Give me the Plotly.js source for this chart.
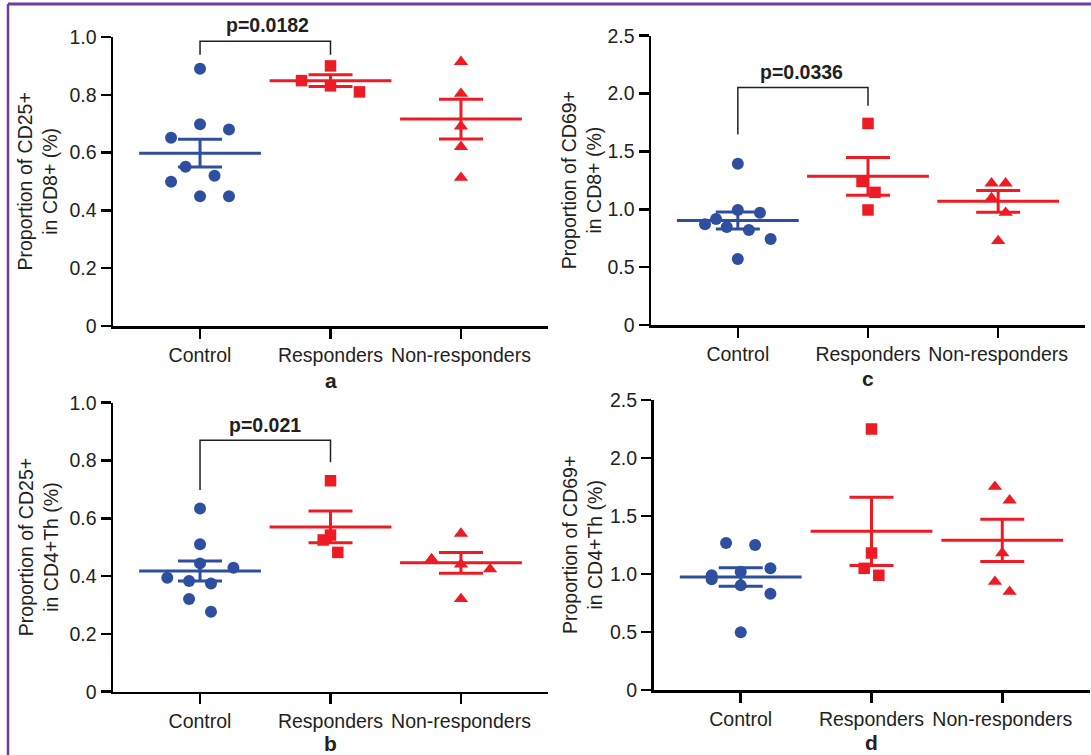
<!DOCTYPE html>
<html>
<head>
<meta charset="utf-8">
<script src="https://cdn.plot.ly/plotly-3.0.1.min.js"></script>
<style>html,body{margin:0;padding:0;background:#fff;}#chart{width:1091px;height:755px;}</style>
</head>
<body>
<div id="chart"></div>
<script>
// ---------- data ----------
const categories = ["Control", "Responders", "Non-responders"];
const yTicksAB = [0, 0.2, 0.4, 0.6, 0.8, 1.0];
const yTickTextAB = ["0", "0.2", "0.4", "0.6", "0.8", "1.0"];
const yTicksCD = [0, 0.5, 1.0, 1.5, 2.0, 2.5];
const yTickTextCD = ["0", "0.5", "1.0", "1.5", "2.0", "2.5"];

// Panel a: CD25+ in CD8+
const aControl = [0.890, 0.698, 0.680, 0.651, 0.551, 0.520, 0.499, 0.449, 0.449];
const aResponders = [0.900, 0.849, 0.831, 0.810];
const aNonResponders = [0.914, 0.804, 0.691, 0.620, 0.513];
const aMean = [0.598, 0.849, 0.716];
const aSEM = [0.048, 0.020, 0.069];

// Panel c: CD69+ in CD8+
const cControl = [1.394, 0.994, 0.971, 0.916, 0.870, 0.847, 0.821, 0.743, 0.570];
const cResponders = [1.742, 1.241, 1.146, 0.994];
const cNonResponders = [1.224, 1.224, 1.097, 0.971, 0.726];
const cMean = [0.904, 1.285, 1.069];
const cSEM = [0.0735, 0.163, 0.094];

// Panel b: CD25+ in CD4+Th
const bControl = [0.634, 0.510, 0.444, 0.429, 0.394, 0.383, 0.374, 0.321, 0.277];
const bResponders = [0.730, 0.542, 0.525, 0.482];
const bNonResponders = [0.547, 0.459, 0.441, 0.424, 0.321];
const bMean = [0.4175, 0.570, 0.446];
const bSEM = [0.0345, 0.055, 0.036];

// Panel d: CD69+ in CD4+Th
const dControl = [1.267, 1.250, 1.049, 1.020, 0.989, 0.954, 0.902, 0.830, 0.497];
const dResponders = [2.250, 1.181, 1.049, 0.989];
const dNonResponders = [1.753, 1.635, 1.181, 0.934, 0.848];
const dMean = [0.974, 1.368, 1.290];
const dSEM = [0.079, 0.2945, 0.1825];

// p-values
const pA = "p=0.0182";
const pC = "p=0.0336";
const pB = "p=0.021";

// ---------- layout helpers (positions / styles) ----------
// horizontal swarm offsets (category units) for each point
const aControlDx = [0, 0, 0.222, -0.222, -0.111, 0.111, -0.222, 0, 0.222];
const aRespDx = [0, -0.222, 0, 0.222];
const aNonDx = [0, 0, 0, 0, 0];
const cControlDx = [0, 0, 0.17, -0.167, -0.252, -0.085, 0.085, 0.252, 0];
const cRespDx = [0, -0.046, 0.054, 0];
const cNonDx = [-0.051, 0.057, -0.051, 0.057, 0];
const bControlDx = [0, 0, 0, 0.256, -0.251, -0.084, 0.084, -0.084, 0.084];
const bRespDx = [0, 0, -0.056, 0.056];
const bNonDx = [0, -0.225, 0, 0.223, 0];
const dControlDx = [-0.112, 0.110, 0.227, 0, -0.222, -0.222, 0, 0.227, 0];
const dRespDx = [0, 0, -0.056, 0.056];
const dNonDx = [-0.056, 0.056, 0, -0.056, 0.056];

const BLUE = "#2e4f9f";
const RED = "#ed1c24";
const TXT = "#231f20";
const FONT = "Liberation Sans, Arial, Helvetica, sans-serif";
const W = 1091, H = 755;

function px2x(p) { return p / W; }
function px2y(p) { return 1 - p / H; }

const traces = [];
function addGroup(axSuffix, catIdx, vals, dx, mean, sem, color, symbol) {
  const xa = "x" + axSuffix, ya = "y" + axSuffix;
  traces.push({
    type: "scatter", mode: "markers", xaxis: xa, yaxis: ya,
    x: vals.map((v, i) => catIdx + dx[i]), y: vals,
    marker: { symbol: symbol, size: symbol === "triangle-up" ? 12.5 : (symbol === "square" ? 11.5 : 12), color: color, line: { width: 0 } },
    cliponaxis: false, hoverinfo: "y", showlegend: false
  });
  traces.push({
    type: "scatter", mode: "markers", xaxis: xa, yaxis: ya,
    x: [catIdx], y: [mean],
    marker: { symbol: "line-ew", size: 87, color: color, line: { width: 3, color: color } },
    error_y: { type: "data", array: [sem], visible: true, width: 22, thickness: 3, color: color },
    cliponaxis: false, hoverinfo: "y", showlegend: false
  });
}
const symbols = ["circle", "square", "triangle-up"];
const colors = [BLUE, RED, RED];

const panels = [
  { s: "", groups: [aControl, aResponders, aNonResponders], dx: [aControlDx, aRespDx, aNonDx], mean: aMean, sem: aSEM },
  { s: "2", groups: [cControl, cResponders, cNonResponders], dx: [cControlDx, cRespDx, cNonDx], mean: cMean, sem: cSEM },
  { s: "3", groups: [bControl, bResponders, bNonResponders], dx: [bControlDx, bRespDx, bNonDx], mean: bMean, sem: bSEM },
  { s: "4", groups: [dControl, dResponders, dNonResponders], dx: [dControlDx, dRespDx, dNonDx], mean: dMean, sem: dSEM }
];
panels.forEach(p => {
  p.groups.forEach((g, i) => addGroup(p.s, i, g, p.dx[i], p.mean[i], p.sem[i], colors[i], symbols[i]));
});

function xAxis(domain, anchor) {
  return {
    domain: domain, anchor: anchor, range: [-0.667, 2.667], tickvals: [0, 1, 2], ticktext: categories,
    showline: true, linewidth: 2.5, linecolor: "#000", ticks: "outside", ticklen: 10, tickwidth: 2.5, tickcolor: "#000",
    showgrid: false, zeroline: false, fixedrange: true, tickfont: { family: FONT, size: 19.5, color: TXT }
  };
}
function yAxis(domain, anchor, range, tv, tt) {
  return {
    domain: domain, anchor: anchor, range: range, tickvals: tv, ticktext: tt,
    showline: true, linewidth: 2.5, linecolor: "#000", ticks: "outside", ticklen: 10, tickwidth: 2.5, tickcolor: "#000",
    showgrid: false, zeroline: false, fixedrange: true, tickfont: { family: FONT, size: 19.5, color: TXT }
  };
}

function bracket(s, x0, x1, top, leftBottom, rightBottom) {
  return {
    type: "path", xref: "x" + s, yref: "y" + s,
    path: `M ${x0},${leftBottom} L ${x0},${top} L ${x1},${top} L ${x1},${rightBottom}`,
    line: { color: TXT, width: 1.5 }
  };
}

function yTitle(xpx, ycenterPx, text) {
  return {
    xref: "paper", yref: "paper", x: px2x(xpx), y: px2y(ycenterPx), xanchor: "center", yanchor: "middle",
    text: text, textangle: -90, showarrow: false, align: "center",
    font: { family: FONT, size: 19.5, color: TXT }
  };
}
function letter(s, ypx, text) {
  return {
    xref: "x" + s, yref: "paper", x: 1, y: px2y(ypx), xanchor: "center", yanchor: "middle",
    text: "<b>" + text + "</b>", showarrow: false, font: { family: FONT, size: 21, color: TXT }
  };
}
function pLabel(s, x, ypx, text) {
  return {
    xref: "x" + s, yref: "paper", x: x, y: px2y(ypx), xanchor: "center", yanchor: "middle",
    text: "<b>" + text + "</b>", showarrow: false, font: { family: FONT, size: 19.5, color: TXT }
  };
}

const layout = {
  width: W, height: H, margin: { l: 0, r: 0, t: 0, b: 0 },
  paper_bgcolor: "#fff", plot_bgcolor: "rgba(0,0,0,0)", showlegend: false,
  xaxis: xAxis([px2x(113), px2x(548)], "y"),
  yaxis: yAxis([px2y(326), px2y(37)], "x", [0, 1], yTicksAB, yTickTextAB),
  xaxis2: xAxis([px2x(651), px2x(1085)], "y2"),
  yaxis2: yAxis([px2y(325), px2y(35.7)], "x2", [0, 2.5], yTicksCD, yTickTextCD),
  xaxis3: xAxis([px2x(113), px2x(548)], "y3"),
  yaxis3: yAxis([px2y(691.7), px2y(402.7)], "x3", [0, 1], yTicksAB, yTickTextAB),
  xaxis4: xAxis([px2x(653.5), px2x(1089.5)], "y4"),
  yaxis4: yAxis([px2y(690), px2y(400)], "x4", [0, 2.5], yTicksCD, yTickTextCD),
  shapes: [
    bracket("", 0, 1, 0.985, 0.939, 0.939),
    bracket("2", 0, 1, 2.053, 1.647, 1.894),
    bracket("3", 0, 1, 0.870, 0.698, 0.794),
    { type: "line", xref: "paper", yref: "paper", x0: px2x(8), x1: 1, y0: px2y(4), y1: px2y(4), line: { color: "#6b3fa0", width: 3 } },
    { type: "line", xref: "paper", yref: "paper", x0: px2x(8), x1: px2x(8), y0: px2y(4), y1: 0, line: { color: "#6b3fa0", width: 2.5 } }
  ],
  annotations: [
    yTitle(37, 181.5, "Proportion of CD25+<br>in CD8+ (%)"),
    yTitle(581, 180.3, "Proportion of CD69+<br>in CD8+ (%)"),
    yTitle(38, 547.2, "Proportion of CD25+<br>in CD4+Th (%)"),
    yTitle(582, 545, "Proportion of CD69+<br>in CD4+Th (%)"),
    letter("", 380, "a"),
    letter("2", 378, "c"),
    letter("3", 743, "b"),
    letter("4", 742, "d"),
    pLabel("", 0.52, 25, pA),
    pLabel("2", 0.49, 71.7, pC),
    pLabel("3", 0.5, 425, pB)
  ]
};

Plotly.newPlot("chart", traces, layout, { staticPlot: true, displayModeBar: false });
</script>
</body>
</html>
